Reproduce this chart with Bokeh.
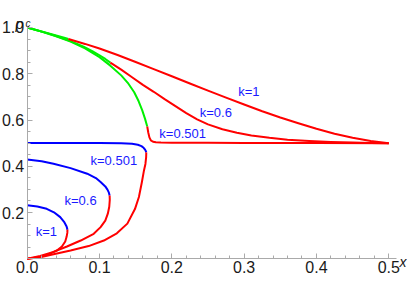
from bokeh.plotting import figure
from bokeh.models import Range1d, FixedTicker, PrintfTickFormatter, ColumnDataSource
from bokeh.core.properties import value
from bokeh.embed import file_html
from bokeh.resources import INLINE

# ---------------- data ----------------
# upper branches, green part
up1_green_x = [0.0, 0.01, 0.02, 0.03, 0.04, 0.05, 0.057]
up1_green_p = [1.0, 0.9915, 0.983, 0.9745, 0.966, 0.957, 0.950]
up06_green_x = [0.0, 0.02, 0.04, 0.06, 0.078, 0.09, 0.1, 0.108, 0.115]
up06_green_p = [1.0, 0.982, 0.963, 0.941, 0.917, 0.898, 0.880, 0.864, 0.848]
up0501_green_x = [0.0, 0.02, 0.04, 0.06, 0.08, 0.1, 0.115, 0.13, 0.14, 0.148, 0.154, 0.159, 0.163, 0.166]
up0501_green_p = [1.0, 0.982, 0.962, 0.939, 0.910, 0.872, 0.835, 0.793, 0.757, 0.720, 0.682, 0.643, 0.605, 0.572]

# upper branches, red part
up1_red_x = [0.057, 0.08, 0.1, 0.125, 0.15, 0.175, 0.2, 0.225, 0.25, 0.275, 0.3, 0.325, 0.35, 0.375, 0.4, 0.425, 0.45, 0.475, 0.5]
up1_red_p = [0.950, 0.929, 0.909, 0.881, 0.851, 0.820, 0.789, 0.758, 0.727, 0.697, 0.667, 0.638, 0.611, 0.586, 0.562, 0.541, 0.523, 0.509, 0.500]
up06_red_x = [0.115, 0.13, 0.145, 0.16, 0.175, 0.19, 0.205, 0.22, 0.235, 0.25, 0.27, 0.29, 0.31, 0.335, 0.36, 0.39, 0.42, 0.45, 0.475, 0.5]
up06_red_p = [0.848, 0.818, 0.785, 0.752, 0.722, 0.690, 0.660, 0.630, 0.603, 0.581, 0.560, 0.545, 0.533, 0.523, 0.515, 0.509, 0.505, 0.503, 0.501, 0.500]
up0501_red_x = [0.166, 0.1675, 0.169, 0.171, 0.174, 0.178, 0.185, 0.2, 0.25, 0.3, 0.4, 0.5]
up0501_red_p = [0.572, 0.545, 0.525, 0.512, 0.506, 0.5035, 0.5025, 0.502, 0.5015, 0.501, 0.5005, 0.500]

# lower branches, blue part
lo1_blue_x = [0.0, 0.014, 0.027, 0.037, 0.0457, 0.051, 0.0545, 0.0557]
lo1_blue_p = [0.231, 0.226, 0.216, 0.201, 0.180, 0.160, 0.140, 0.126]
lo06_blue_x = [0.0, 0.02, 0.0364, 0.06, 0.083, 0.095, 0.1015, 0.108, 0.111, 0.113, 0.114]
lo06_blue_p = [0.429, 0.422, 0.411, 0.392, 0.368, 0.349, 0.332, 0.313, 0.299, 0.286, 0.274]
lo0501_blue_x = [0.0, 0.05, 0.1, 0.13, 0.145, 0.153, 0.158, 0.161, 0.163, 0.164, 0.1647]
lo0501_blue_p = [0.501, 0.501, 0.5005, 0.4995, 0.497, 0.493, 0.487, 0.480, 0.472, 0.466, 0.460]

# lower branches, red part
lo1_red_x = [0.0557, 0.0555, 0.0545, 0.0526, 0.048, 0.0411, 0.03, 0.018, 0.008, 0.0]
lo1_red_p = [0.126, 0.112, 0.095, 0.075, 0.053, 0.036, 0.020, 0.009, 0.003, 0.0]
lo06_red_x = [0.114, 0.1142, 0.1135, 0.1115, 0.108, 0.1015, 0.092, 0.074, 0.055, 0.0364, 0.018, 0.0]
lo06_red_p = [0.274, 0.255, 0.225, 0.195, 0.165, 0.137, 0.108, 0.079, 0.053, 0.030, 0.012, 0.0]
lo0501_red_x = [0.1647, 0.1645, 0.1635, 0.1615, 0.1585, 0.1545, 0.149, 0.1385, 0.124, 0.106, 0.085, 0.06, 0.038, 0.018, 0.0]
lo0501_red_p = [0.460, 0.44, 0.41, 0.382, 0.33, 0.267, 0.215, 0.152, 0.11, 0.079, 0.055, 0.036, 0.021, 0.007, 0.0]

# curve labels
label_text = ["k=1", "k=0.6", "k=0.501", "k=0.501", "k=0.6", "k=1"]
label_x = [0.3065, 0.2608, 0.215, 0.1198, 0.0738, 0.0265]
label_y = [0.722, 0.633, 0.542, 0.425, 0.250, 0.117]

# axis titles
y_title, y_title_sub, x_title = "p", "c", "x"

# ticks
x_ticks = [0.0, 0.1, 0.2, 0.3, 0.4, 0.5]
x_minor = [0.02, 0.04, 0.06, 0.08, 0.12, 0.14, 0.16, 0.18, 0.22, 0.24, 0.26, 0.28,
           0.32, 0.34, 0.36, 0.38, 0.42, 0.44, 0.46, 0.48]
y_ticks = [0.2, 0.4, 0.6, 0.8, 1.0]
y_minor = [0.05, 0.1, 0.15, 0.25, 0.3, 0.35, 0.45, 0.5, 0.55, 0.65, 0.7, 0.75, 0.85, 0.9, 0.95]

RED = "#ff0000"
GREEN = "#00f000"
BLUE = "#0000ff"
FONT = "Liberation Sans"
AXIS = "#aaaaaa"
INK = "#1a1a1a"

p = figure(width=407, height=275,
           x_range=Range1d(-0.0369, 0.5259), y_range=Range1d(-0.0722, 1.1167),
           output_backend="svg", toolbar_location=None,
           min_border_left=0, min_border_right=0, min_border_top=0, min_border_bottom=0)
p.outline_line_color = None
p.grid.visible = False
p.background_fill_color = "white"

for ax, ticks, minor, bnd in ((p.xaxis[0], x_ticks, x_minor, (0.0, 0.51)),
                              (p.yaxis[0], y_ticks, y_minor, (0.0, 1.004))):
    ax.fixed_location = 0
    ax.bounds = bnd
    ax.ticker = FixedTicker(ticks=ticks, minor_ticks=minor)
    ax.formatter = PrintfTickFormatter(format="%.1f")
    ax.axis_line_color = AXIS
    ax.major_tick_line_color = AXIS
    ax.minor_tick_line_color = AXIS
    ax.major_tick_in = 5
    ax.major_tick_out = 0
    ax.minor_tick_in = 3
    ax.minor_tick_out = 0
    ax.major_label_text_font = FONT
    ax.major_label_text_font_size = "16px"
    ax.major_label_text_color = INK
p.xaxis[0].major_label_standoff = 2
p.yaxis[0].major_label_standoff = 3

curves = [
    (up1_green_x, up1_green_p, GREEN), (up06_green_x, up06_green_p, GREEN), (up0501_green_x, up0501_green_p, GREEN),
    (up1_red_x, up1_red_p, RED), (up06_red_x, up06_red_p, RED), (up0501_red_x, up0501_red_p, RED),
    (lo1_blue_x, lo1_blue_p, BLUE), (lo06_blue_x, lo06_blue_p, BLUE), (lo0501_blue_x, lo0501_blue_p, BLUE),
    (lo1_red_x, lo1_red_p, RED), (lo06_red_x, lo06_red_p, RED), (lo0501_red_x, lo0501_red_p, RED),
]
for xs, ps, col in curves:
    p.line(xs, ps, line_color=col, line_width=2, line_join="round", line_cap="butt")

src = ColumnDataSource(dict(x=label_x, y=label_y, t=label_text))
p.text(x="x", y="y", text="t", source=src, text_font=value(FONT), text_font_size="13px",
       text_color="#1a1aff", text_align="center", text_baseline="middle")

# axis titles (drawn as text glyphs inside the full-canvas frame)
p.text(x=[-0.0162], y=[1.0182], text=[y_title], text_font=value(FONT), text_font_size="15px",
       text_font_style="italic", text_color=INK, text_align="left", text_baseline="alphabetic")
p.text(x=[-0.0024], y=[1.0160], text=[y_title_sub], text_font=value(FONT), text_font_size="10px",
       text_font_style="italic", text_color=INK, text_align="left", text_baseline="alphabetic")
p.text(x=[0.5148], y=[-0.0138], text=[x_title], text_font=value(FONT), text_font_size="14px",
       text_font_style="italic", text_color=INK, text_align="left", text_baseline="middle")

open("out.html", "w").write(file_html(p, INLINE))
